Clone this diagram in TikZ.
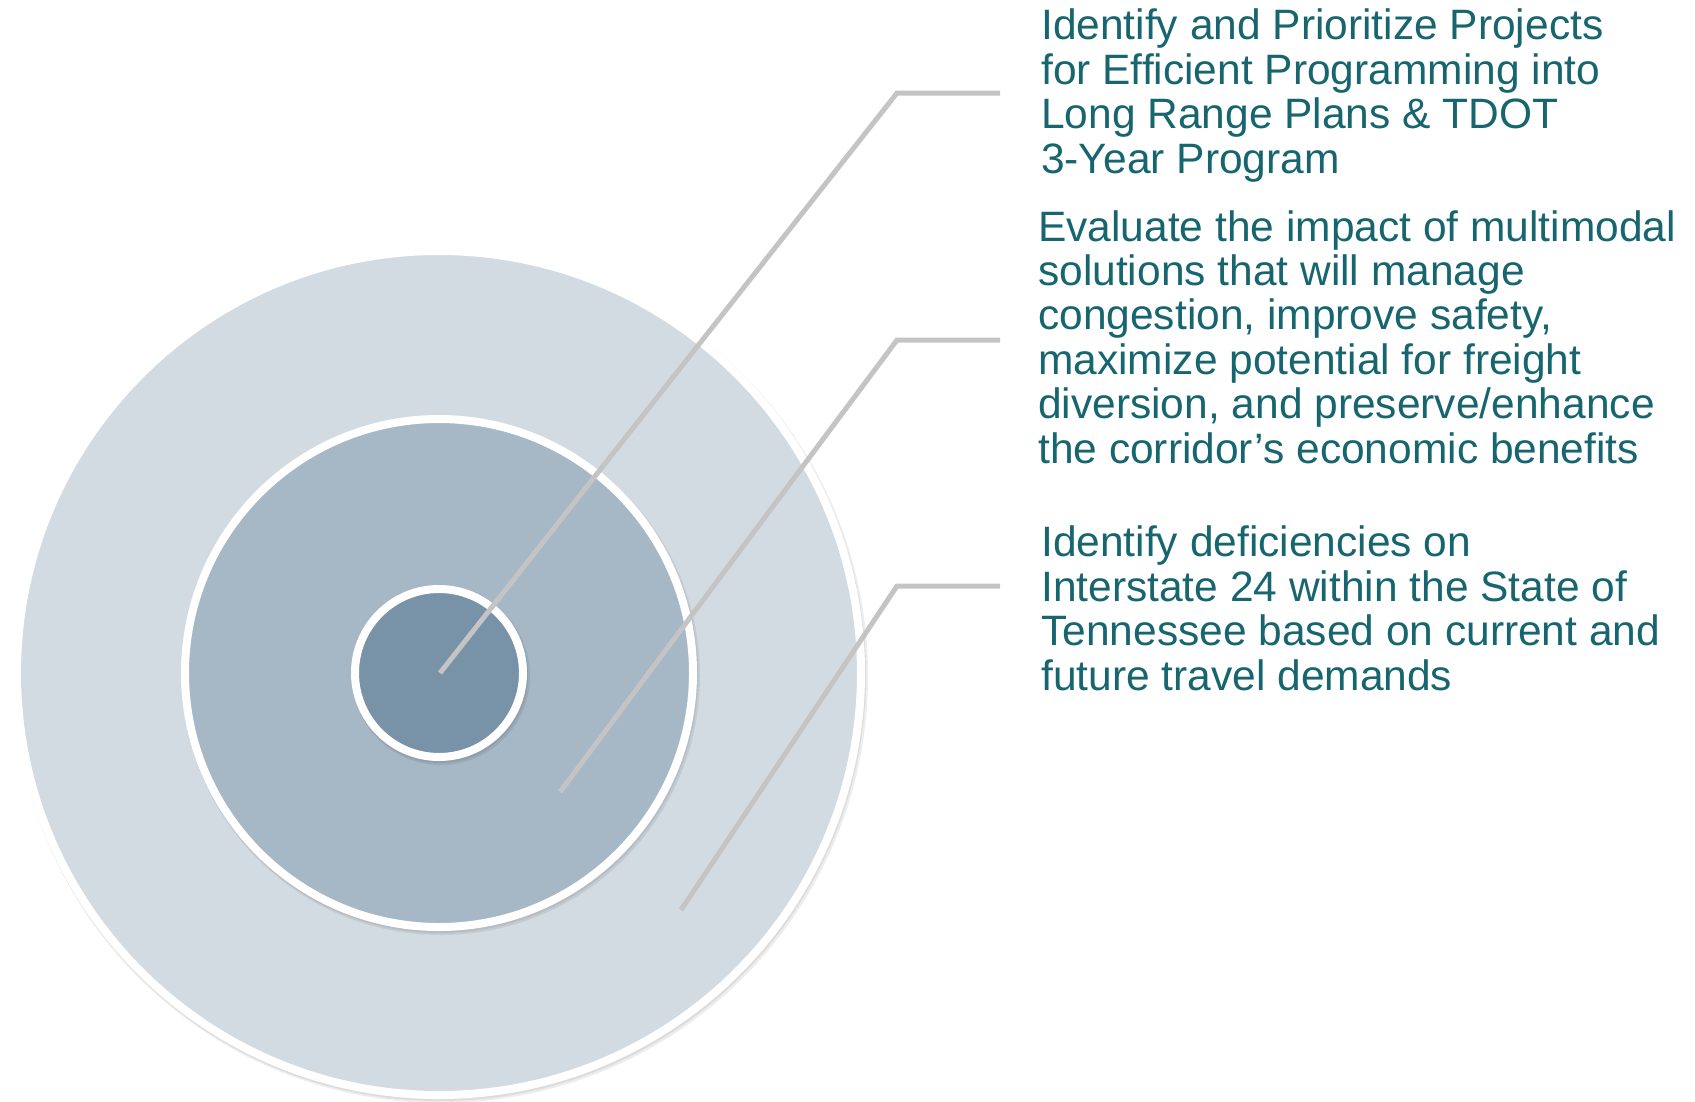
\documentclass[tikz,border=0pt]{standalone}
\usepackage{fontspec}
\setmainfont{Liberation Sans}
\definecolor{ringlight}{HTML}{D2DBE2}
\definecolor{ringmid}{HTML}{A6B7C5}
\definecolor{ringdark}{HTML}{7892A8}
\definecolor{goalteal}{HTML}{17656E}
\definecolor{leadergray}{HTML}{C4C4C4}
\tikzset{
  ring/.style={draw=white, line width=8pt},
  ringshadow/.style={fill=black, opacity=0.07},
  leader/.style={draw=leadergray, line width=5pt},
  goal/.style={anchor=base west, inner sep=0pt, align=left, text=goalteal,
    font=\fontsize{42.5}{44.4}\selectfont},
}
\begin{document}
\begin{tikzpicture}[x=1pt,y=-1pt]
  \useasboundingbox (0,0) rectangle (1695,1101);
  % rings, outer to inner
  \fill[ringshadow] (441,676) circle (427);
  \fill[ringshadow] (440,675) circle (426);
  \path[ring, fill=ringlight] (439,673) circle (422);
  \fill[ringshadow] (441,676) circle (259);
  \fill[ringshadow] (440,675) circle (258);
  \path[ring, fill=ringmid] (439,673) circle (254);
  \fill[ringshadow] (441,676) circle (89);
  \fill[ringshadow] (440,675) circle (88);
  \path[ring, fill=ringdark] (439,673) circle (84);
  % leader lines
  \coordinate (tip1) at (440,673);
  \coordinate (bend1) at (897,93);
  \coordinate (end1) at (1000,93);
  \coordinate (tip2) at (560,792);
  \coordinate (bend2) at (897,340);
  \coordinate (end2) at (1000,340);
  \coordinate (tip3) at (681,910);
  \coordinate (bend3) at (897,586);
  \coordinate (end3) at (1000,586);
  \draw[leader] (tip1) -- (bend1) -- (end1);
  \draw[leader] (tip2) -- (bend2) -- (end2);
  \draw[leader] (tip3) -- (bend3) -- (end3);
  % goals (base = last line)
  \node[goal] (goal1) at (1041,173) {Identify and Prioritize Projects\\
    for Efficient Programming into\\ Long Range Plans \& TDOT\\ 3-Year Program};
  \node[goal] (goal2) at (1038,463) {Evaluate the impact of multimodal\\
    solutions that will manage\\ congestion, improve safety,\\
    maximize potential for freight\\ diversion, and preserve/enhance\\
    the corridor’s economic benefits};
  \node[goal] (goal3) at (1041,690) {Identify deficiencies on\\
    Interstate 24 within the State of\\ Tennessee based on current and\\
    future travel demands};
\end{tikzpicture}
\end{document}
